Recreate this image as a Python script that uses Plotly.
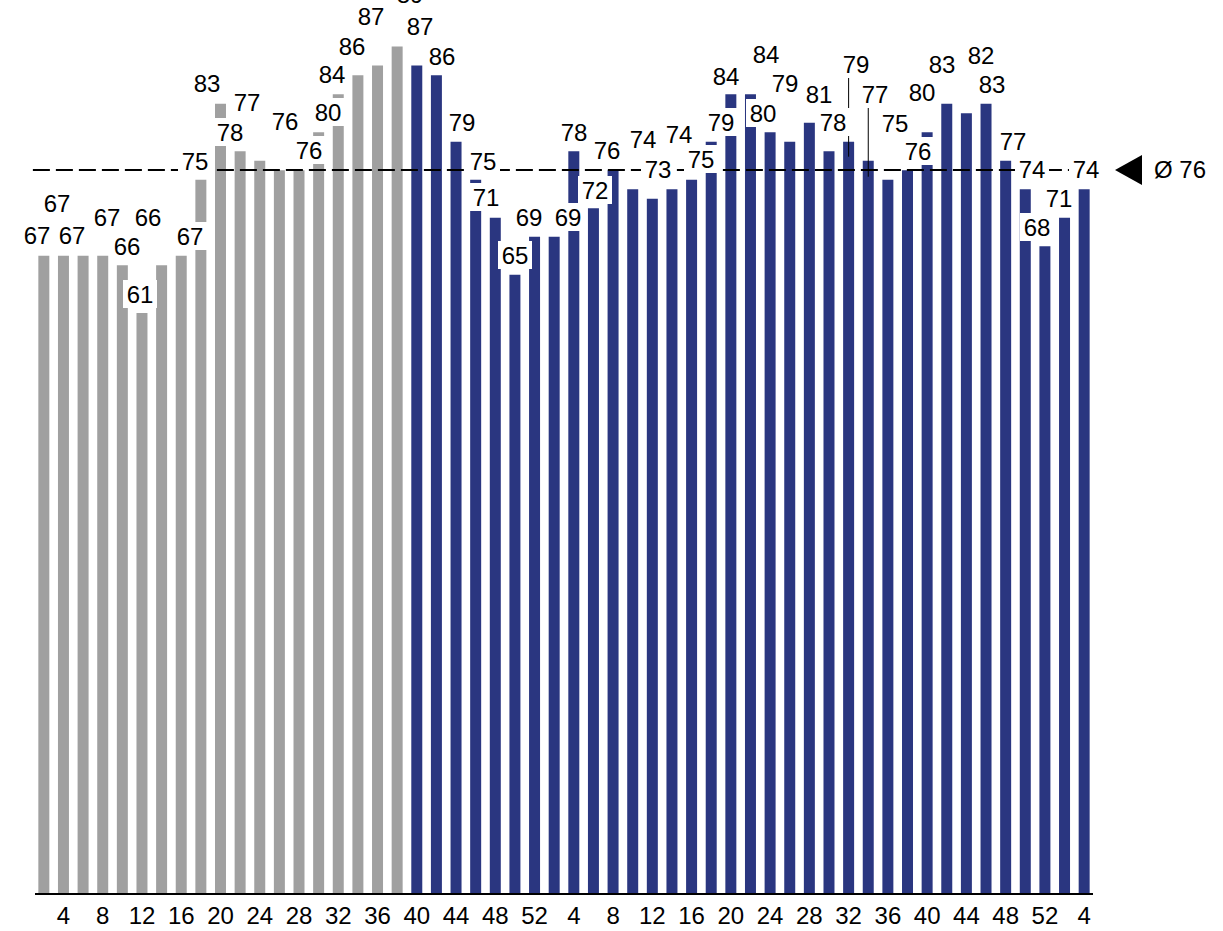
import numpy as np
import plotly.graph_objects as go

# Calendar week of every bar (two-weekly values over three years)
weeks = [2, 4, 6, 8, 10, 12, 14, 16, 18, 20, 22, 24, 26, 28, 30, 32, 34, 36, 38,
         40, 42, 44, 46, 48, 50, 52,
         2, 4, 6, 8, 10, 12, 14, 16, 18, 20, 22, 24, 26, 28, 30, 32, 34, 36, 38,
         40, 42, 44, 46, 48, 50, 52,
         2, 4]

# Earlier period (grey) and current period (blue)
prior_values = [67, 67, 67, 67, 66, 61, 66, 67, 75, 83, 78, 77, 76, 76, 80, 84, 86, 87, 89]
current_values = [87, 86, 79, 75, 71, 65, 69, 69, 78, 72, 76, 74, 73, 74, 75, 79, 84, 84,
                  80, 79, 81, 78, 79, 77, 75, 76, 80, 83, 82, 83, 77, 74, 68, 71, 74]

# Label placement (pixel offsets from the bar top) to keep labels apart
label_dx = [-7, -6, -11, 4, 5, -2, -14, 9, -6, -13, -10, -13, 6, 10, 9, -6, -6, -7, 13, 3,
            6, 6, 7, -9, 0, -6, 14, 0, 2, -6, 10, 6, 7, 9, 10, -5, 16, -7, -5, 10,
            4, 7, 7, 7, 10, -5, -5, 15, 6, 7, 7, -8, -6, 2]
label_dy = [21, 53, 21, 39, 19, 19, 48, 20, 19, 21, 19, 59, 49, 20, 20, 20, 29, 50, 53, 40,
            19, 20, 19, 21, 20, 20, 20, 19, 18, 20, 50, 30, 55, 21, 20, 18, 40, 19, 59, 29,
            29, 78, 67, 57, 19, 40, 40, 58, 20, 20, 20, 19, 20, 20]
# Leader lines for labels lifted far from their bar: (bar index, top px, bottom px)
leaders = [(41, 64, -15), (42, 54, -16)]

GREY = "#a0a0a0"
BLUE = "#2a3680"
FONT = "Arial, Liberation Sans, sans-serif"

values = prior_values + current_values
xs = list(range(len(values)))
n_prior = len(prior_values)
avg = float(np.mean(values))

fig = go.Figure()
fig.add_trace(go.Bar(x=xs[:n_prior], y=prior_values, width=0.56,
                     marker=dict(color=GREY, line=dict(width=0)), hoverinfo="skip"))
fig.add_trace(go.Bar(x=xs[n_prior:], y=current_values, width=0.56,
                     marker=dict(color=BLUE, line=dict(width=0)), hoverinfo="skip"))

annotations = []
for i, v in enumerate(values):
    annotations.append(dict(
        x=i, y=v, xref="x", yref="y", text=str(v), showarrow=False,
        xanchor="center", yanchor="middle", xshift=label_dx[i], yshift=label_dy[i],
        width=34, height=28, align="center", valign="middle",
        font=dict(family=FONT, size=24, color="black"),
        bgcolor="white", borderpad=0, borderwidth=0,
    ))

# Average marker and label at the right edge
annotations.append(dict(
    x=1, y=avg, xref="paper", yref="y", text=f"Ø {avg:.0f}", showarrow=False,
    xanchor="left", yanchor="middle", xshift=59, yshift=0,
    font=dict(family=FONT, size=24, color="black"),
))

shapes = [
    dict(type="line", xref="paper", yref="y", x0=-0.002, x1=1, y0=avg, y1=avg,
         line=dict(color="black", width=2, dash="17px,6px"), layer="above"),
    dict(type="path", xref="paper", yref="y", xsizemode="pixel", ysizemode="pixel",
         xanchor=1, yanchor=avg, path="M 22,0 L 49,15 L 49,-15 Z",
         fillcolor="black", line=dict(width=0), layer="above"),
]
for idx, top, bottom in leaders:
    shapes.append(dict(type="line", xref="x", yref="y", ysizemode="pixel",
                       yanchor=values[idx], x0=idx, x1=idx, y0=bottom, y1=top,
                       line=dict(color="black", width=1), layer="above"))

tick_idx = [i for i, w in enumerate(weeks) if w % 4 == 0]
tick_txt = [str(weeks[i]) for i in tick_idx]

fig.update_layout(
    width=1223, height=931,
    margin=dict(l=35, r=130, t=0, b=38),
    paper_bgcolor="white", plot_bgcolor="white",
    barmode="overlay", showlegend=False,
    annotations=annotations, shapes=shapes,
    font=dict(family=FONT, size=24, color="black"),
    xaxis=dict(range=[-0.45, len(values) - 1 + 0.45], tickmode="array",
               tickvals=tick_idx, ticktext=tick_txt, showgrid=False, zeroline=False,
               showline=True, linecolor="black", linewidth=2, ticks="",
               tickfont=dict(family=FONT, size=24, color="black")),
    yaxis=dict(range=[0, 93.9], visible=False, showgrid=False, zeroline=False),
)

fig.write_html("out.html")
